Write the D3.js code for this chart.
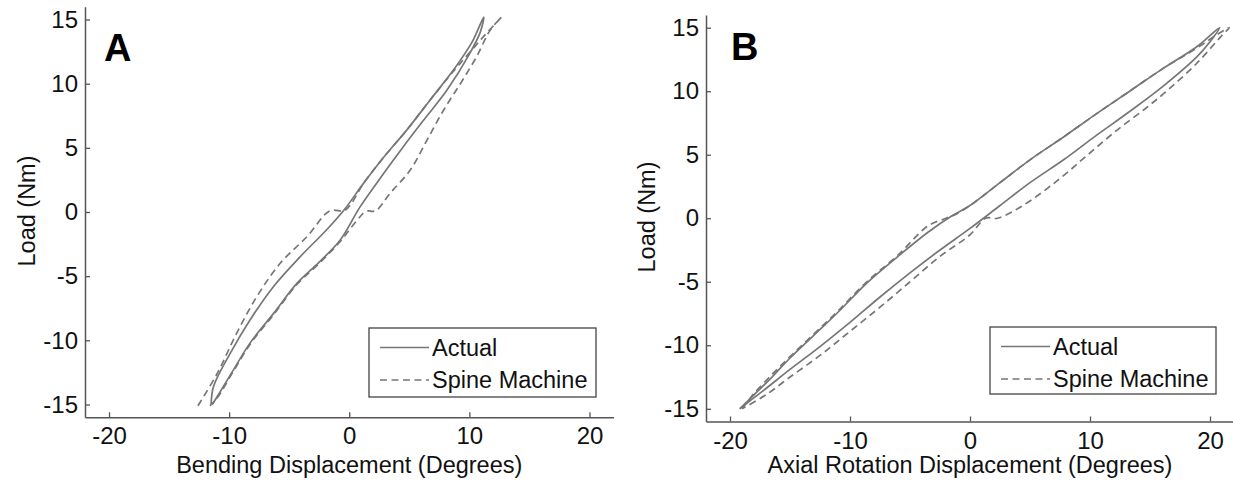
<!DOCTYPE html>
<html><head><meta charset="utf-8">
<script src="https://cdn.jsdelivr.net/npm/d3@7"></script>
<style>
body{margin:0;background:#fff}
svg{display:block}
text{font-family:"Liberation Sans",Arial,sans-serif}
</style>
</head><body>
<svg id="c" width="1233" height="482"></svg>
<script>
// ---------------- DATA ----------------
const xTicks = [-20, -10, 0, 10, 20];
const yTicks = [-15, -10, -5, 0, 5, 10, 15];
const xTickLabels = ["-20", "-10", "0", "10", "20"];
const yTickLabels = ["-15", "-10", "-5", "0", "5", "10", "15"];
const seriesNames = ["Actual", "Spine Machine"];
const panelLetters = ["A", "B"];
const xTitles = ["Bending Displacement (Degrees)", "Axial Rotation Displacement (Degrees)"];
const yTitle = "Load (Nm)";

// Panel A – Actual (loading branch then unloading branch)
const aActualX = [-11.5, -11.3, -9.9, -8.25, -6.3, -4.1, -1.9, -0.4, 1.2, 2.9, 4.8, 6.75, 8.7, 10.2, 11.2,
                  10.9, 10.0, 8.14, 6.2, 4.5, 2.86, 0.9, -0.75, -2.5, -4.36, -6.3, -8.25, -9.64, -11.0, -11.4];
const aActualY = [-15.0, -13.6, -11.0, -8.4, -5.8, -3.5, -1.4, 0.2, 2.25, 4.3, 6.4, 8.75, 11.1, 13.2, 15.2,
                  14.0, 12.3, 9.5, 7.17, 5.09, 3.0, 0.4, -2.18, -3.9, -5.56, -7.9, -10.2, -12.3, -14.4, -15.0];
// Panel A – Spine Machine
const aMachineX = [-12.6, -11.0, -9.4, -7.7, -5.75, -3.5, -1.6, -0.4, 0.2, 1.2, 2.9, 4.8, 6.75, 8.7, 10.0, 11.3, 12.7,
                   11.75, 10.6, 9.25, 7.86, 6.47, 5.08, 3.4, 2.2, 1.4, 0.6, -0.75, -2.5, -4.36, -6.3, -8.25, -9.64, -11.0, -11.6];
const aMachineY = [-15.1, -12.6, -9.5, -6.6, -4.0, -1.9, 0.1, 0.1, 0.7, 2.25, 4.3, 6.4, 8.75, 11.0, 12.4, 13.8, 15.2,
                   14.2, 12.1, 10.0, 7.95, 5.6, 3.27, 1.46, 0.1, 0.05, -0.7, -2.3, -4.0, -5.65, -8.0, -10.3, -12.4, -14.5, -15.1];
// Panel B – Actual
const bActualX = [-19.2, -18, -16.5, -15, -13, -11, -8.6, -6, -3.5, -1.5, 0, 2.5, 5, 7.8, 10.5, 13.3, 16.1, 18.9, 20.8,
                  20.0, 18.9, 16.1, 13.3, 10.5, 7.8, 5.0, 2.5, 0, -2.5, -5, -7.5, -10, -12.5, -15, -17, -18.5, -19.2];
const bActualY = [-15, -13.9, -12.5, -11.0, -9.2, -7.4, -5.1, -3.0, -1.1, 0.2, 1.0, 2.8, 4.6, 6.4, 8.2, 10.0, 11.8, 13.5, 15.0,
                  13.9, 12.7, 10.4, 8.4, 6.5, 4.6, 2.8, 1.0, -0.8, -2.5, -4.3, -6.2, -8.2, -10.1, -11.9, -13.4, -14.5, -15.0];
// Panel B – Spine Machine
const bMachineX = [-19.0, -18, -16.5, -15, -13, -11, -8.6, -6, -3.5, -2.0, -1.2, 0, 2.5, 5, 7.8, 10.5, 13.3, 16.1, 18.9, 20.5, 21.6,
                   21.0, 18.9, 16.5, 14.7, 12.2, 9.7, 7.2, 4.4, 2.3, 1.3, 0, -2.5, -5, -7.5, -10, -12.5, -15, -17, -19.0];
const bMachineY = [-15, -13.8, -12.3, -10.9, -9.1, -7.3, -5.0, -2.9, -0.6, 0.0, 0.3, 1.0, 2.8, 4.6, 6.4, 8.2, 10.0, 11.8, 13.4, 14.4, 15.0,
                   14.4, 12.2, 10.1, 8.7, 6.9, 4.9, 2.9, 1.0, 0.0, 0.0, -1.3, -3.0, -5.0, -7.0, -8.9, -10.8, -12.5, -13.9, -15.0];

const xDomain = [-22, 22];
const yDomain = [-16, 16];

// ---------------- LAYOUT ----------------
const panels = [
  {letter: panelLetters[0], xTitle: xTitles[0], left: 85, right: 613.5, top: 6.7, bottom: 417.3,
   actual: [aActualX, aActualY], machine: [aMachineX, aMachineY],
   legend: {x: 369, y: 328, w: 227, h: 69}, yTitleX: 27, yTitleY: 211, letterX: 104, letterY: 61},
  {letter: panelLetters[1], xTitle: xTitles[1], left: 706, right: 1234, top: 15, bottom: 421.5,
   actual: [bActualX, bActualY], machine: [bMachineX, bMachineY],
   legend: {x: 990, y: 327, w: 226, h: 67}, yTitleX: 647, yTitleY: 217, letterX: 731, letterY: 60}
];

const svg = d3.select("#c");
const lineColor = "#767676";
const axisColor = "#555";

panels.forEach(p => {
  const x = d3.scaleLinear().domain(xDomain).range([p.left, p.right]);
  const y = d3.scaleLinear().domain(yDomain).range([p.bottom, p.top]);
  const g = svg.append("g");

  // axes
  const xAxis = d3.axisBottom(x).tickValues(xTicks)
    .tickFormat((d, i) => xTickLabels[i]).tickSizeInner(-5).tickSizeOuter(0).tickPadding(10);
  const yAxis = d3.axisLeft(y).tickValues(yTicks)
    .tickFormat((d, i) => yTickLabels[i]).tickSizeInner(-5).tickSizeOuter(0).tickPadding(7);

  const gx = g.append("g").attr("transform", `translate(0,${p.bottom})`).call(xAxis);
  const gy = g.append("g").attr("transform", `translate(${p.left},0)`).call(yAxis);
  [gx, gy].forEach(a => {
    a.select(".domain").attr("stroke", axisColor).attr("stroke-width", 1.5);
    a.selectAll(".tick line").attr("stroke", axisColor).attr("stroke-width", 1.3);
    a.selectAll(".tick text").attr("fill", "#111").attr("font-size", 24)
      .attr("font-family", "'Liberation Sans', Arial, sans-serif");
  });

  // curves
  const line = d3.line().x(d => x(d[0])).y(d => y(d[1])).curve(d3.curveCatmullRom.alpha(0.5));
  const toPts = arr => arr[0].map((v, i) => [v, arr[1][i]]);
  g.append("path").datum(toPts(p.machine)).attr("d", line)
    .attr("fill", "none").attr("stroke", lineColor).attr("stroke-width", 1.7)
    .attr("stroke-dasharray", "7,4.5");
  g.append("path").datum(toPts(p.actual)).attr("d", line)
    .attr("fill", "none").attr("stroke", lineColor).attr("stroke-width", 1.7);

  // titles
  g.append("text").attr("x", x(0)).attr("y", 473).attr("text-anchor", "middle")
    .attr("font-size", 23.5).attr("fill", "#111").text(p.xTitle);
  g.append("text").attr("transform", `translate(${p.yTitleX},${p.yTitleY}) rotate(-90)`)
    .attr("text-anchor", "middle").attr("dy", "0.35em")
    .attr("font-size", 23.5).attr("fill", "#111").text(yTitle);

  // panel letter
  g.append("text").attr("x", p.letterX).attr("y", p.letterY)
    .attr("font-family", "Lato, 'Open Sans', sans-serif").attr("font-weight", "bold")
    .attr("font-size", 38).attr("fill", "#000").text(p.letter);

  // legend
  const L = p.legend;
  const lg = g.append("g").attr("transform", `translate(${L.x},${L.y})`);
  lg.append("rect").attr("width", L.w).attr("height", L.h)
    .attr("fill", "#fff").attr("stroke", "#444").attr("stroke-width", 1.3);
  const rows = [{name: seriesNames[0], dash: null, yy: 19.5}, {name: seriesNames[1], dash: "7,4.5", yy: 52}];
  rows.forEach(r => {
    lg.append("line").attr("x1", 11).attr("x2", 60).attr("y1", r.yy).attr("y2", r.yy)
      .attr("stroke", lineColor).attr("stroke-width", 1.7)
      .attr("stroke-dasharray", r.dash);
    lg.append("text").attr("x", 63).attr("y", r.yy).attr("dy", "0.35em")
      .attr("font-size", 23.5).attr("fill", "#111").text(r.name);
  });
});
</script>
</body></html>
